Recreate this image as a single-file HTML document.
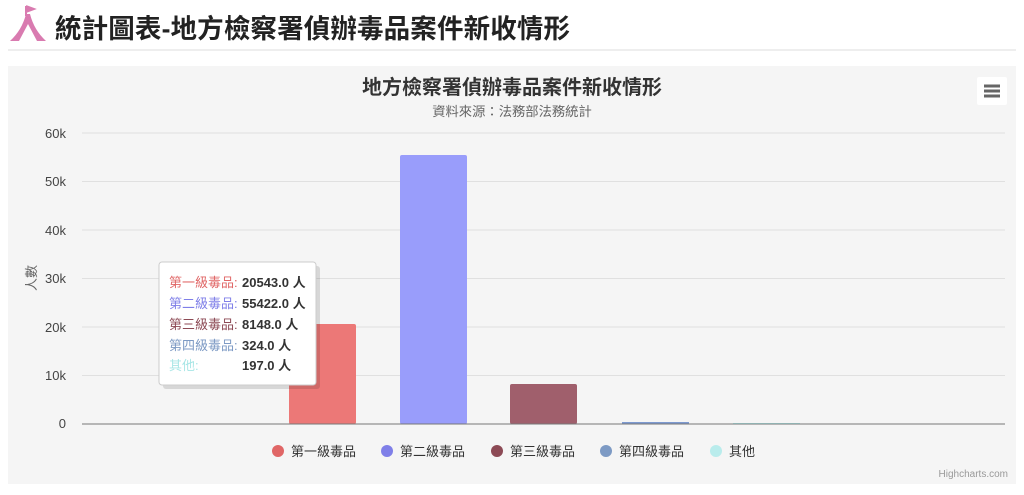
<!DOCTYPE html>
<html><head><meta charset="utf-8"><style>
body{margin:0;width:1024px;height:490px;background:#fff;overflow:hidden;font-family:"Liberation Sans","Noto Sans CJK TC",sans-serif;}
</style></head><body>
<svg width="1024" height="490" xmlns="http://www.w3.org/2000/svg" font-family="Liberation Sans, Noto Sans CJK TC, sans-serif">
<path d="M10 41 Q22 30 26 14 L30 14 Q34 30 46 41 L37 41 L28 24 L19 41 Z" fill="#d97bb0"/>
<path d="M26 6 L26 16 M26 6 L34 9 L26 12" stroke="#d97bb0" stroke-width="2" fill="#d97bb0"/>
<text x="55" y="38" font-size="26.5" font-weight="bold" fill="#222" textLength="515">統計圖表-地方檢察署偵辦毒品案件新收情形</text>
<line x1="8" y1="50" x2="1016" y2="50" stroke="#ddd"/>
<rect x="8" y="66" width="1008" height="418" fill="#f5f5f5"/>
<text x="512" y="94" font-size="20" font-weight="bold" fill="#333" text-anchor="middle">地方檢察署偵辦毒品案件新收情形</text>
<text x="512" y="116" font-size="13.3" fill="#666" text-anchor="middle">資料來源：法務部法務統計</text>
<rect x="977" y="77" width="30" height="28" rx="2" fill="#fff"/>
<g stroke="#666" stroke-width="3"><line x1="984" y1="86" x2="1000" y2="86"/><line x1="984" y1="91" x2="1000" y2="91"/><line x1="984" y1="96" x2="1000" y2="96"/></g>
<g stroke="#e0e0e0" stroke-width="1">
<line x1="82" y1="133" x2="1005" y2="133"/><line x1="82" y1="181.5" x2="1005" y2="181.5"/><line x1="82" y1="230" x2="1005" y2="230"/><line x1="82" y1="278.5" x2="1005" y2="278.5"/><line x1="82" y1="327" x2="1005" y2="327"/><line x1="82" y1="375.5" x2="1005" y2="375.5"/>
</g>
<g font-size="13" fill="#444" text-anchor="end">
<text x="66" y="138">60k</text><text x="66" y="186">50k</text><text x="66" y="235">40k</text><text x="66" y="283">30k</text><text x="66" y="332">20k</text><text x="66" y="380">10k</text><text x="66" y="428">0</text>
</g>
<text transform="translate(36,278) rotate(-90)" font-size="13" fill="#666" text-anchor="middle">人數</text>
<rect x="289" y="324" width="67" height="100" rx="2" fill="#ec7877"/>
<rect x="400" y="155" width="67" height="269" rx="2" fill="#999dfb"/>
<rect x="510" y="384" width="67" height="40" rx="2" fill="#a05f6c"/>
<rect x="622" y="422" width="67" height="2" fill="#7d9ad0"/>
<rect x="733" y="423" width="67" height="1" fill="#aee"/>
<line x1="82" y1="424" x2="1005" y2="424" stroke="#777"/>
<g font-size="13" fill="#333">
<circle cx="278" cy="451" r="6" fill="#e06666"/><text x="291" y="456">第一級毒品</text>
<circle cx="387" cy="451" r="6" fill="#7f7fe8"/><text x="400" y="456">第二級毒品</text>
<circle cx="497" cy="451" r="6" fill="#8c4a55"/><text x="510" y="456">第三級毒品</text>
<circle cx="606" cy="451" r="6" fill="#7d9ac4"/><text x="619" y="456">第四級毒品</text>
<circle cx="716" cy="451" r="6" fill="#b9ecec"/><text x="729" y="456">其他</text>
</g>
<text x="1008" y="477" font-size="10" fill="#999" text-anchor="end">Highcharts.com</text>
<rect x="161" y="264" width="157" height="123" rx="3" fill="#000" opacity="0.12" transform="translate(2,2)"/>
<rect x="159" y="262" width="157" height="123" rx="3" fill="#fff" stroke="#ccc"/>
<g font-size="13">
<text x="169" y="287" fill="#e06666">第一級毒品:</text><text x="242" y="287" fill="#333" font-weight="bold">20543.0 人</text>
<text x="169" y="308" fill="#7f7fe8">第二級毒品:</text><text x="242" y="308" fill="#333" font-weight="bold">55422.0 人</text>
<text x="169" y="329" fill="#8c4a55">第三級毒品:</text><text x="242" y="329" fill="#333" font-weight="bold">8148.0 人</text>
<text x="169" y="350" fill="#7d9ac4">第四級毒品:</text><text x="242" y="350" fill="#333" font-weight="bold">324.0 人</text>
<text x="169" y="370" fill="#a8e6e6">其他:</text><text x="242" y="370" fill="#333" font-weight="bold">197.0 人</text>
</g>
</svg>
</body></html>
